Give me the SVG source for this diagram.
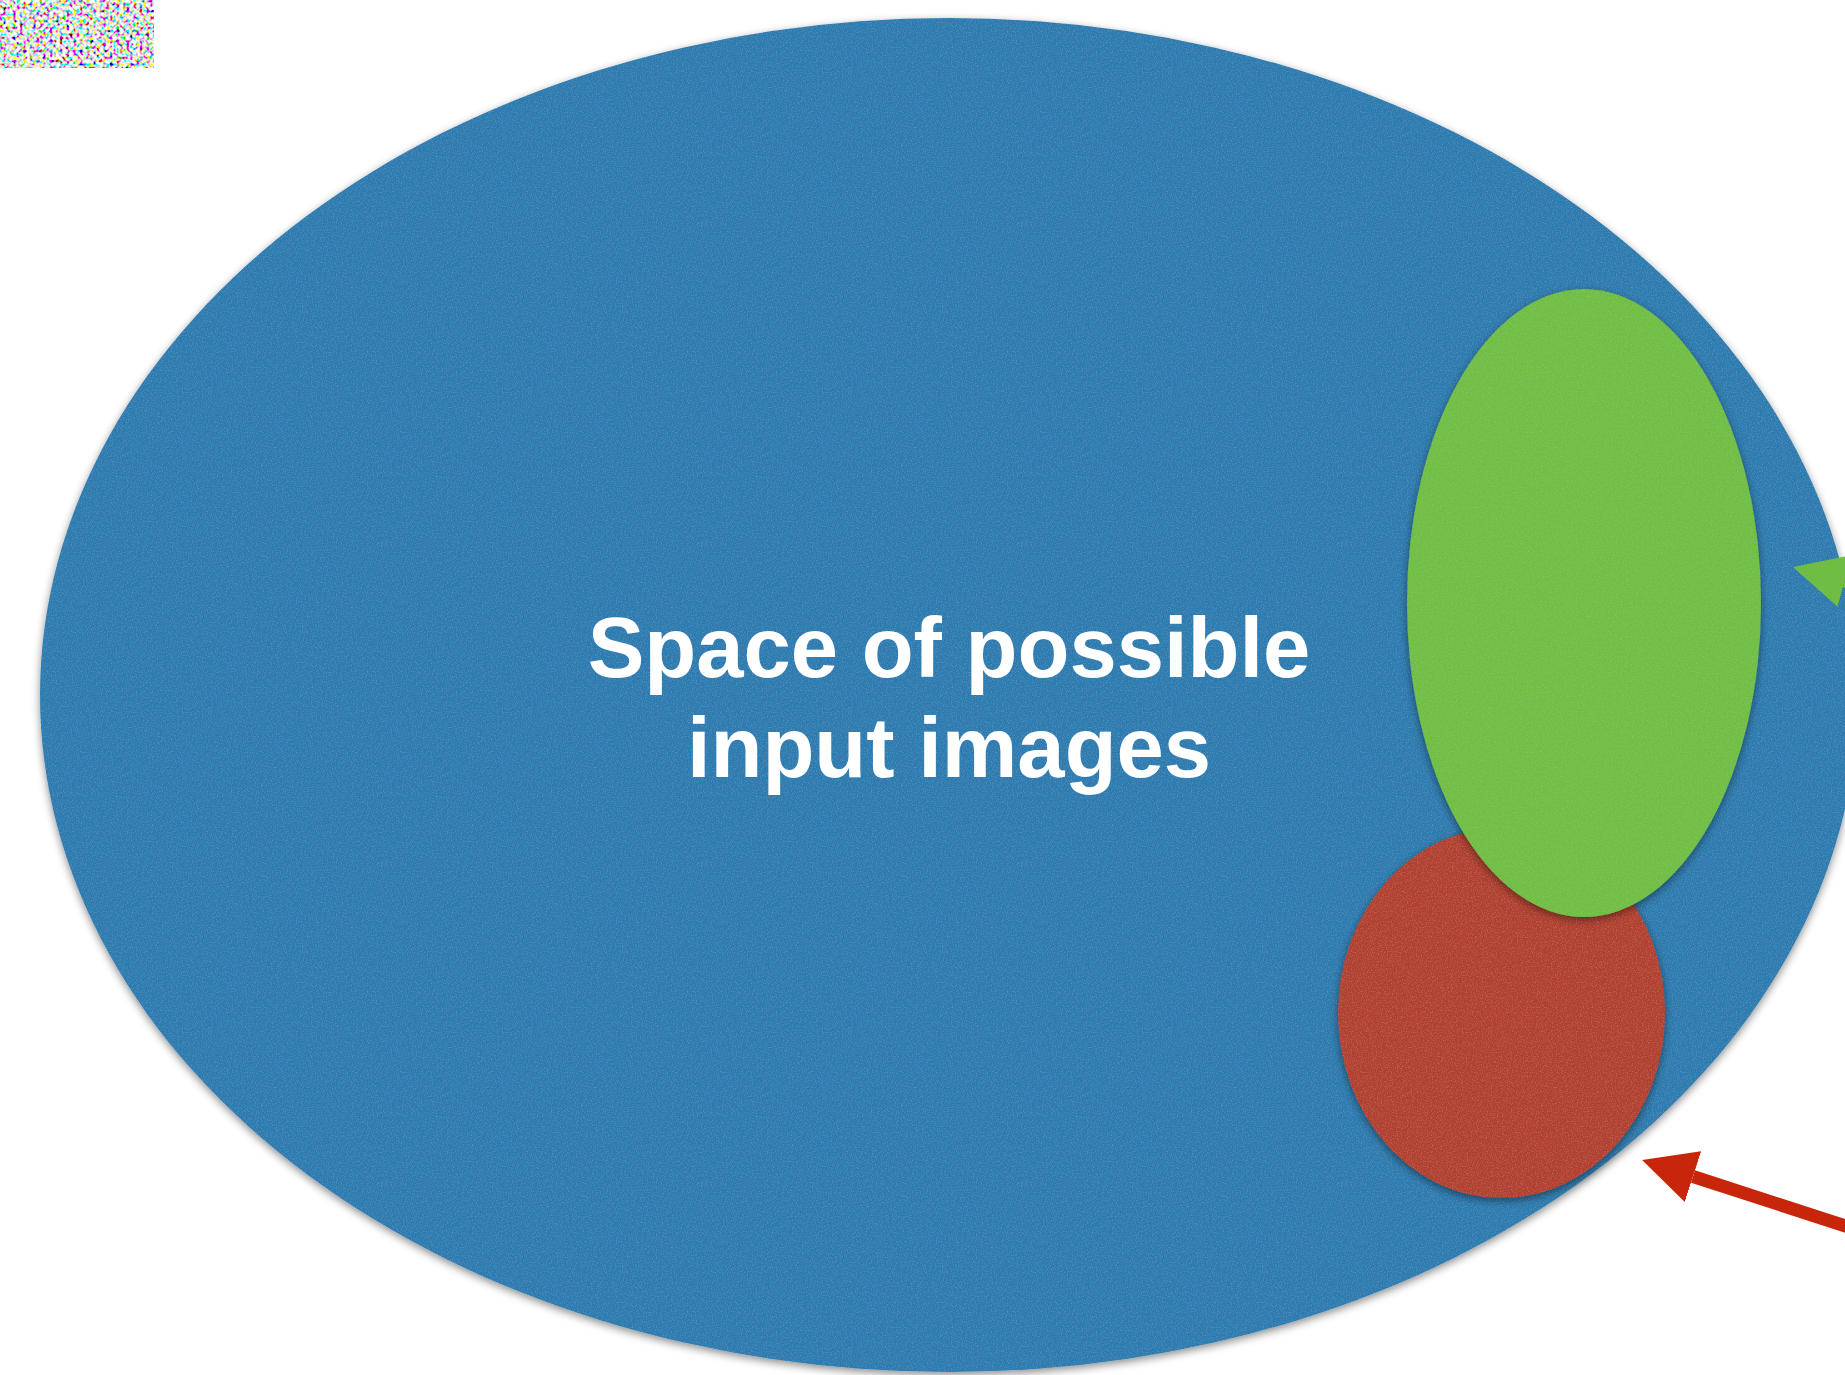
<svg xmlns="http://www.w3.org/2000/svg" width="1845" height="1375" viewBox="0 0 1845 1375">
  <defs>
    <style>
      .label { font-family: "Liberation Sans", Arial, Helvetica, sans-serif; font-weight: bold; font-size: 85px; fill: #ffffff; text-anchor: middle; }
      .blue { fill: #2c7cb0; }
      .green { fill: #6fbe43; }
      .red { fill: #b2412d; }
      .conn { fill: none; stroke-width: 13; stroke-linecap: butt; }
    </style>
    <filter id="noise" x="0" y="0" width="100%" height="100%">
      <feTurbulence type="fractalNoise" baseFrequency="0.3" numOctaves="1" seed="7"/>
      <feColorMatrix type="matrix" values="4.5 0 0 0 -1.45  0 4.5 0 0 -1.45  0 0 4.5 0 -1.45  0 0 0 0 1"/>
    </filter>
    <filter id="paper" x="-5%" y="-5%" width="110%" height="110%">
      <feTurbulence type="fractalNoise" baseFrequency="0.8" numOctaves="2" seed="3" result="n"/>
      <feColorMatrix in="n" type="matrix" values="0 0 0 0 1  0 0 0 0 1  0 0 0 0 1  0.2 0 0 0 -0.09" result="nw"/>
      <feComposite in="nw" in2="SourceGraphic" operator="in" result="tex"/>
      <feGaussianBlur in="SourceAlpha" stdDeviation="4" result="b"/>
      <feOffset in="b" dx="0" dy="3" result="o"/>
      <feColorMatrix in="o" type="matrix" values="0 0 0 0 0  0 0 0 0 0  0 0 0 0 0  0 0 0 0.45 0" result="sh"/>
      <feMerge>
        <feMergeNode in="sh"/>
        <feMergeNode in="SourceGraphic"/>
        <feMergeNode in="tex"/>
      </feMerge>
    </filter>
    <marker id="headRed" markerUnits="userSpaceOnUse" markerWidth="54" markerHeight="54" viewBox="0 -27 54 54" refX="0" refY="0" orient="auto">
      <path d="M0,-26.7 L53.5,0 L0,26.7 Z" fill="#c8260b"/>
    </marker>
    <marker id="headGreen" markerUnits="userSpaceOnUse" markerWidth="54" markerHeight="54" viewBox="0 -27 54 54" refX="0" refY="0" orient="auto">
      <path d="M0,-26.7 L53.5,0 L0,26.7 Z" fill="#6fbe43"/>
    </marker>
  </defs>

  <rect width="1845" height="1375" fill="#ffffff"/>

  <g id="noise-image">
    <rect x="0" y="0" width="154" height="68" filter="url(#noise)"/>
  </g>

  <g id="input-space">
    <ellipse class="blue" cx="949" cy="695" rx="909" ry="677" filter="url(#paper)"/>
    <text class="label" x="949" y="677">Space of possible</text>
    <text class="label" x="949" y="777">input images</text>
  </g>

  <g id="red-region">
    <ellipse class="red" cx="1501.5" cy="1013" rx="163.5" ry="185" filter="url(#paper)"/>
  </g>

  <g id="green-region">
    <ellipse class="green" cx="1584" cy="603" rx="177" ry="314" filter="url(#paper)"/>
  </g>

  <g id="connectors">
    <line class="conn" x1="2134" y1="660" x2="1844.6" y2="581" stroke="#6fbe43" marker-end="url(#headGreen)"/>
    <line class="conn" x1="1978" y1="1269" x2="1693" y2="1176.5" stroke="#c8260b" marker-end="url(#headRed)"/>
  </g>
</svg>
